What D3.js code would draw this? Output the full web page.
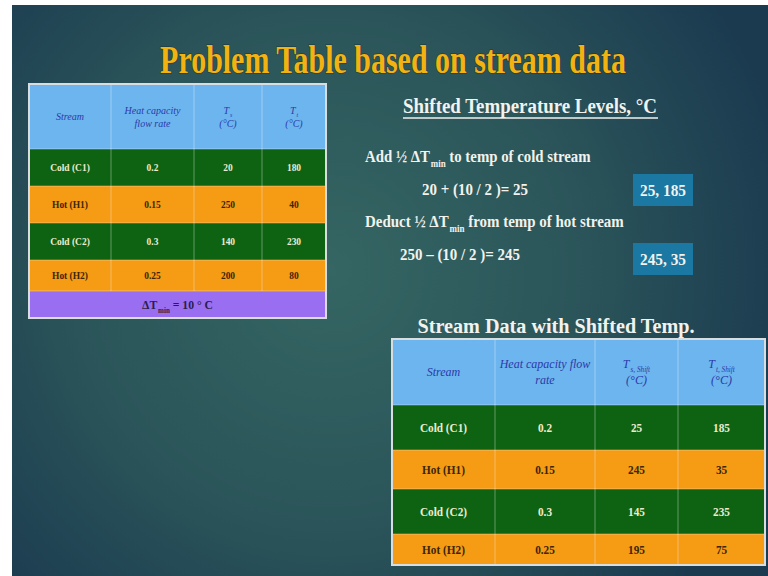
<!DOCTYPE html>
<html>
<head>
<meta charset="utf-8">
<script src="https://cdn.jsdelivr.net/npm/d3@7"></script>
<style>
  body { margin: 0; background: #fff; }
  svg { display: block; }
</style>
</head>
<body>
<div class="chart"></div>
<script>
const width = 768;
const height = 576;

// stream data (original)
const streams = ["Cold (C1)", "Hot (H1)", "Cold (C2)", "Hot (H2)"];
const heatCapacity = ["0.2", "0.15", "0.3", "0.25"];
const supplyTemp = [20, 250, 140, 200];
const targetTemp = [180, 40, 230, 80];
const dTmin = 10;

// shifted stream data
const shiftedSupply = [25, 245, 145, 195];
const shiftedTarget = [185, 35, 235, 75];

// worked examples
const coldPair = ["25, 185"];
const hotPair = ["245, 35"];

const serif = "'Liberation Serif', 'DejaVu Serif', serif";
const colors = {
    header: "#6db5ee",
    Cold: "#0d6311",
    Hot: "#f59b14",
    purple: "#9a6ef0",
    headText: "#2b3aa8",
    ColdText: "#ecebd2",
    HotText: "#3a260a"
};

let svg = d3.select(".chart")
    .append("svg")
    .attr("width", width)
    .attr("height", height);

let defs = svg.append("defs");
let grad = defs.append("radialGradient")
    .attr("id", "bg")
    .attr("gradientUnits", "userSpaceOnUse")
    .attr("cx", 330).attr("cy", 270).attr("r", 470);
grad.append("stop").attr("offset", "0%").attr("stop-color", "#356663");
grad.append("stop").attr("offset", "55%").attr("stop-color", "#2a5459");
grad.append("stop").attr("offset", "100%").attr("stop-color", "#1b3a50");

svg.append("rect")
    .attr("x", 12).attr("y", 5)
    .attr("width", width - 12).attr("height", height - 5)
    .attr("fill", "url(#bg)");

// squeeze a text horizontally to the given width (the slide font is condensed)
function fitWidth(t, x, y, target) {
    let w = t.node().getComputedTextLength();
    let sx = Math.min(1, target / w);
    t.attr("x", 0).attr("y", 0)
        .attr("transform", `translate(${x},${y}) scale(${sx},1)`);
    return t;
}

// adds text made of parts; part = [string, isSub]
function richText(g, x, y, parts, opts) {
    let t = g.append("text")
        .attr("x", x).attr("y", y)
        .attr("text-anchor", opts.anchor || "middle")
        .attr("font-family", serif)
        .attr("font-size", opts.size)
        .attr("font-weight", opts.weight || "normal")
        .attr("font-style", opts.style || "normal")
        .attr("fill", opts.fill);
    let shifted = false;
    parts.forEach(p => {
        let s = t.append("tspan").text(p[0]);
        if (p[1] && !shifted) {
            s.attr("dy", opts.size * 0.3).attr("dx", 1).attr("font-size", opts.size * 0.6);
            shifted = true;
        } else if (!p[1] && shifted) {
            s.attr("dy", -opts.size * 0.3);
            shifted = false;
        }
    });
    if (opts.len) fitWidth(t, x, y, opts.len);
    return t;
}

// title
let title = svg.append("text")
    .attr("text-anchor", "middle")
    .attr("font-family", serif)
    .attr("font-weight", "bold")
    .attr("font-size", 40)
    .attr("fill", "#f2b20f")
    .style("paint-order", "stroke")
    .attr("stroke", "rgba(0,0,0,0.25)")
    .attr("stroke-width", 1.5)
    .text("Problem Table based on stream data");
fitWidth(title, 393, 73, 466);

function drawTable(cfg) {
    let g = svg.append("g");
    let colEdges = [cfg.x].concat(Array.from(d3.cumsum([cfg.x].concat(cfg.colWidths))).slice(1));
    let rowEdges = [cfg.y].concat(Array.from(d3.cumsum([cfg.y].concat(cfg.rowHeights))).slice(1));
    let cx = i => (colEdges[i] + colEdges[i + 1]) / 2;
    let y = i => rowEdges[i];
    let cy = i => (rowEdges[i] + rowEdges[i + 1]) / 2;
    let right = colEdges[colEdges.length - 1];

    // header
    g.append("rect")
        .attr("x", cfg.x).attr("y", y(0))
        .attr("width", right - cfg.x).attr("height", y(1) - y(0))
        .attr("fill", colors.header);

    cfg.headers.forEach((lines, c) => {
        lines.forEach((parts, li) => {
            let yy = cy(0) + (li - (lines.length - 1) / 2) * cfg.headSize * 1.3 + cfg.headSize * 0.35;
            richText(g, cx(c), yy, parts, {
                size: cfg.headSize, style: "italic", fill: colors.headText
            });
        });
    });

    // body rows
    let rows = streams.map((s, i) => ({
        kind: s.startsWith("Cold") ? "Cold" : "Hot",
        cells: [s, cfg.values[0][i], cfg.values[1][i], cfg.values[2][i]]
    }));

    let rowG = g.selectAll("g.row")
        .data(rows)
        .enter()
        .append("g")
        .attr("class", "row");

    rowG.append("rect")
        .attr("x", cfg.x)
        .attr("y", (d, i) => y(i + 1))
        .attr("width", right - cfg.x)
        .attr("height", (d, i) => y(i + 2) - y(i + 1))
        .attr("fill", d => colors[d.kind]);

    rowG.each(function(d, i) {
        d3.select(this).selectAll("text")
            .data(d.cells)
            .enter()
            .append("text")
            .attr("text-anchor", "middle")
            .attr("font-family", serif)
            .attr("font-weight", "bold")
            .attr("font-size", cfg.bodySize)
            .attr("fill", colors[d.kind + "Text"])
            .attr("transform", (v, c) => `translate(${cx(c)},${cy(i + 1) + cfg.bodySize * 0.35}) scale(0.9,1)`)
            .text(v => v);
    });

    let nBody = streams.length + 1;

    // extra footer row
    if (cfg.footer) {
        g.append("rect")
            .attr("x", cfg.x).attr("y", y(nBody))
            .attr("width", right - cfg.x).attr("height", y(nBody + 1) - y(nBody))
            .attr("fill", colors.purple);
        richText(g, (cfg.x + right) / 2, cy(nBody) + 4.5, cfg.footer, {
            size: 12.5, weight: "bold", fill: "#2a1e4a", len: 70
        });
    }
    let bottom = rowEdges[rowEdges.length - 1];

    // grid lines
    g.selectAll("line.v")
        .data(colEdges.slice(1, -1))
        .enter().append("line")
        .attr("x1", d => d).attr("x2", d => d)
        .attr("y1", cfg.y).attr("y2", y(nBody))
        .attr("stroke", "rgba(255,255,255,0.45)")
        .attr("stroke-width", 0.8);
    g.selectAll("line.h")
        .data(rowEdges.slice(1, -1))
        .enter().append("line")
        .attr("x1", cfg.x).attr("x2", right)
        .attr("y1", d => d).attr("y2", d => d)
        .attr("stroke", "rgba(255,255,255,0.45)")
        .attr("stroke-width", 0.8);

    g.append("rect")
        .attr("x", cfg.x).attr("y", cfg.y)
        .attr("width", right - cfg.x).attr("height", bottom - cfg.y)
        .attr("fill", "none")
        .attr("stroke", "#d8dde0")
        .attr("stroke-width", 2);
}

drawTable({
    x: 29, y: 84,
    colWidths: [82, 83, 68, 64],
    rowHeights: [65, 37, 37, 37, 31, 27],
    headSize: 10,
    bodySize: 10.5,
    headers: [
        [[["Stream"]]],
        [[["Heat capacity"]], [["flow rate"]]],
        [[["T"], ["s", true]], [["(°C)"]]],
        [[["T"], ["t", true]], [["(°C)"]]]
    ],
    values: [heatCapacity, supplyTemp, targetTemp],
    footer: [["ΔT"], ["min", true], [" = " + dTmin + " ° C"]]
});

drawTable({
    x: 392, y: 339,
    colWidths: [103, 100, 83, 87],
    rowHeights: [66, 45, 39, 45, 31],
    headSize: 12,
    bodySize: 12.5,
    headers: [
        [[["Stream"]]],
        [[["Heat capacity flow"]], [["rate"]]],
        [[["T"], ["s, Shift", true]], [["(°C)"]]],
        [[["T"], ["t, Shift", true]], [["(°C)"]]]
    ],
    values: [heatCapacity, shiftedSupply, shiftedTarget]
});

// shifted temperature levels panel
let panel = svg.append("g");
let white = "#f2f2ee";

let sub = panel.append("text")
    .attr("text-anchor", "middle")
    .attr("font-family", serif)
    .attr("font-weight", "bold")
    .attr("font-size", 22)
    .attr("fill", white)
    .text("Shifted Temperature Levels, °C");
fitWidth(sub, 530, 113, 254);
panel.append("line")
    .attr("x1", 403).attr("x2", 658)
    .attr("y1", 118).attr("y2", 118)
    .attr("stroke", white).attr("stroke-width", 1.5);

richText(panel, 365, 162, [["Add ½ ΔT"], ["min", true], [" to temp of cold stream"]], {
    anchor: "start", size: 17, weight: "bold", fill: white, len: 225
});
richText(panel, 422, 195, [[supplyTemp[0] + " + (" + dTmin + " / 2 )= " + shiftedSupply[0]]], {
    anchor: "start", size: 17, weight: "bold", fill: white, len: 106
});
richText(panel, 365, 227, [["Deduct ½ ΔT"], ["min", true], [" from temp of hot stream"]], {
    anchor: "start", size: 17, weight: "bold", fill: white, len: 258
});
richText(panel, 400, 260, [[supplyTemp[1] + " – (" + dTmin + " / 2 )= " + shiftedSupply[1]]], {
    anchor: "start", size: 17, weight: "bold", fill: white, len: 120
});

let boxes = [
    { label: coldPair[0], y: 174 },
    { label: hotPair[0], y: 243 }
];
let boxG = panel.selectAll("g.box")
    .data(boxes)
    .enter().append("g").attr("class", "box");
boxG.append("rect")
    .attr("x", 633).attr("y", d => d.y)
    .attr("width", 60).attr("height", 32)
    .attr("fill", "#1a78a2");
boxG.append("text")
    .attr("text-anchor", "middle")
    .attr("font-family", serif)
    .attr("font-weight", "bold")
    .attr("font-size", 17)
    .attr("fill", white)
    .attr("transform", d => `translate(663,${d.y + 22}) scale(0.9,1)`)
    .text(d => d.label);

let sub2 = svg.append("text")
    .attr("text-anchor", "middle")
    .attr("font-family", serif)
    .attr("font-weight", "bold")
    .attr("font-size", 22)
    .attr("fill", white)
    .text("Stream Data with Shifted Temp.");
fitWidth(sub2, 556, 333, 277);
</script>
</body>
</html>
